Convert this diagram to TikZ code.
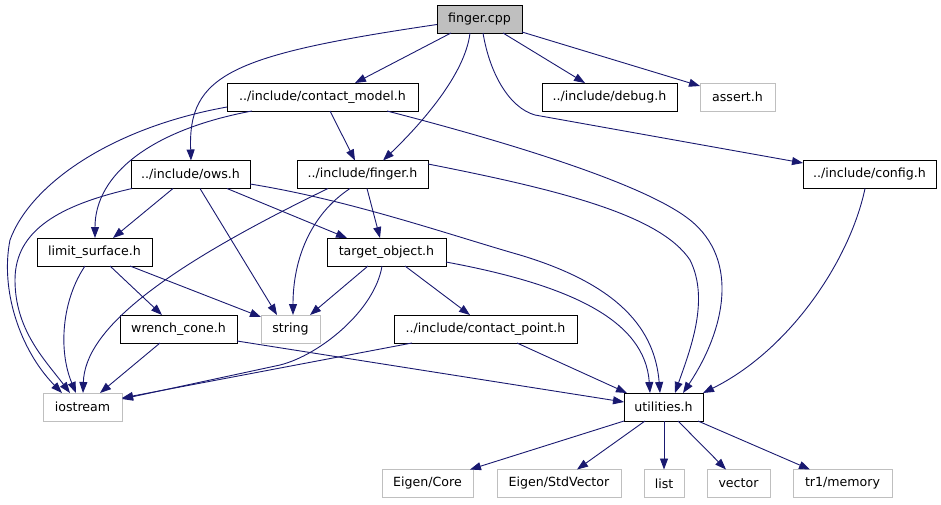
\documentclass[tikz,border=0pt]{standalone}
\usepackage{fontspec}
\setmainfont{DejaVu Sans}
\usetikzlibrary{arrows.meta,calc}
\definecolor{edgec}{RGB}{25,25,112}
\definecolor{grayb}{RGB}{191,191,191}
\begin{document}
\begin{tikzpicture}[x=1pt,y=-1pt,
  box/.style={draw=black,line width=0.9pt,minimum height=28pt,inner sep=0pt,outer sep=0pt,
    font=\fontsize{12.6}{14}\selectfont,fill=white},
  ext/.style={box,draw=grayb},
  root/.style={box,fill=grayb},
  edge/.style={draw=edgec,line width=0.9pt,-{Triangle[length=11pt,width=8pt]}}]
\useasboundingbox (0,0) rectangle (941,504);
% nodes
\node[root,minimum width=85pt]  (fcpp) at (479.5,19) {finger.cpp};
\node[box,minimum width=191pt]  (cm)   at (322.5,97) {../include/contact\_model.h};
\node[box,minimum width=135pt]  (dbg)  at (609.5,97) {../include/debug.h};
\node[ext,minimum width=75pt]   (ast)  at (737.5,97) {assert.h};
\node[box,minimum width=119pt]  (ows)  at (190.5,174.5) {../include/ows.h};
\node[box,minimum width=131pt]  (fh)   at (362.5,174.5) {../include/finger.h};
\node[box,minimum width=133pt]  (cfg)  at (869.5,174.5) {../include/config.h};
\node[box,minimum width=115pt]  (ls)   at (94.5,252) {limit\_surface.h};
\node[box,minimum width=119pt]  (to)   at (386.5,252) {target\_object.h};
\node[box,minimum width=117pt]  (wc)   at (178.5,329) {wrench\_cone.h};
\node[ext,minimum width=59pt]   (str)  at (290.5,329) {string};
\node[box,minimum width=183pt]  (cp)   at (485.5,329) {../include/contact\_point.h};
\node[ext,minimum width=79pt]   (ios)  at (82.5,407) {iostream};
\node[box,minimum width=79pt]   (util) at (663.5,407) {utilities.h};
\node[ext,minimum width=91pt]   (ec)   at (427.5,483.5) {Eigen/Core};
\node[ext,minimum width=124pt]  (esv)  at (559,483.5) {Eigen/StdVector};
\node[ext,minimum width=40pt]   (lst)  at (664,483.5) {list};
\node[ext,minimum width=63pt]   (vec)  at (738.5,483.5) {vector};
\node[ext,minimum width=99pt]   (mem)  at (842.5,483.5) {tr1/memory};
% finger.cpp
\draw[edge] ($(fcpp.south west)+(14,0)$) -- ($(cm.north west)+(128,0)$);
\draw[edge] ($(fcpp.south west)+(33,0)$) .. controls (465,75) and (420,125) .. ($(fh.north west)+(86,0)$);
\draw[edge] ($(fcpp.south west)+(66,0)$) -- ($(dbg.north west)+(43,0)$);
\draw[edge] ($(fcpp.north east)+(0,27)$) -- ($(ast.north west)+(0,3)$);
\draw[edge] ($(fcpp.south west)+(46,0)$) .. controls (490,75) and (510,108) .. (535,115) -- ($(cfg.north west)+(0,2.5)$);
\draw[edge] ($(fcpp.north west)+(0,19.5)$) .. controls (230,55) and (188,75) .. ($(ows.north west)+(60,0)$);
% contact_model
\draw[edge] ($(cm.south west)+(103,0)$) -- ($(fh.north west)+(58,0)$);
\draw[edge] ($(cm.north west)+(0,24)$) .. controls (110,128) and (30,185) .. (10,240) .. controls (0,290) and (20,350) .. ($(ios.north west)+(19,0)$);
\draw[edge] ($(cm.south west)+(25,0)$) .. controls (150,130) and (95,175) .. ($(ls.north west)+(58,0)$);
\draw[edge] ($(cm.south west)+(160,0)$) .. controls (480,135) and (640,180) .. (690,220) .. controls (740,260) and (725,330) .. ($(util.north west)+(59,0)$);
% ows
\draw[edge] ($(ows.south west)+(42,0)$) -- ($(ls.north west)+(76,0)$);
\draw[edge] ($(ows.south west)+(1,0)$) .. controls (60,205) and (15,230) .. (15,280) .. controls (15,330) and (45,360) .. ($(ios.north west)+(27,0)$);
\draw[edge] ($(ows.south west)+(69,0)$) -- ($(str.north west)+(16,0)$);
\draw[edge] ($(ows.south west)+(96,0)$) -- ($(to.north west)+(20,0)$);
\draw[edge] ($(ows.north east)+(0,23.5)$) .. controls (350,200) and (450,235) .. (520,255) .. controls (620,285) and (655,330) .. ($(util.north west)+(36,0)$);
% finger.h
\draw[edge] ($(fh.south west)+(31,0)$) .. controls (160,270) and (85,330) .. ($(ios.north west)+(40,0)$);
\draw[edge] ($(fh.south west)+(53,0)$) .. controls (310,215) and (293,260) .. ($(str.north west)+(32,0)$);
\draw[edge] ($(fh.south west)+(70,0)$) -- ($(to.north west)+(53,0)$);
\draw[edge] ($(fh.north east)+(0,3.5)$) .. controls (560,190) and (660,215) .. (690,260) .. controls (710,300) and (690,350) .. ($(util.north west)+(51,0)$);
% config
\draw[edge] ($(cfg.south west)+(62,0)$) .. controls (850,260) and (790,350) .. (util.north east);
% limit_surface
\draw[edge] ($(ls.south west)+(48,0)$) .. controls (62,300) and (58,350) .. ($(ios.north west)+(33,0)$);
\draw[edge] ($(ls.south west)+(93,0)$) -- ($(str.north west)+(0,2)$);
\draw[edge] ($(ls.south west)+(73,0)$) -- ($(wc.north west)+(42,0)$);
% target_object
\draw[edge] ($(to.south west)+(41,0)$) -- ($(str.north west)+(49,0)$);
\draw[edge] ($(to.south west)+(55,0)$) .. controls (375,310) and (320,355) .. (280,365) -- ($(ios.north east)+(0,6)$);
\draw[edge] ($(to.south west)+(78,0)$) -- ($(cp.north west)+(76,0)$);
\draw[edge] ($(to.north east)+(0,24)$) .. controls (570,285) and (645,320) .. ($(util.north west)+(26,0)$);
% wrench_cone
\draw[edge] ($(wc.south west)+(40,0)$) -- ($(ios.north west)+(57,0)$);
\draw[edge] ($(wc.north east)+(0,26)$) -- ($(util.north west)+(0,9)$);
% contact_point
\draw[edge] ($(cp.south west)+(18,0)$) -- ($(ios.north east)+(0,5)$);
\draw[edge] ($(cp.south west)+(123,0)$) -- ($(util.north west)+(3,0)$);
% utilities
\draw[edge] (util.south west) -- ($(ec.north west)+(88,0)$);
\draw[edge] ($(util.south west)+(21,0)$) -- ($(esv.north west)+(80,0)$);
\draw[edge] ($(util.south west)+(40,0)$) -- (lst.north);
\draw[edge] ($(util.south west)+(54,0)$) -- ($(vec.north west)+(19,0)$);
\draw[edge] ($(util.south west)+(74,0)$) -- ($(mem.north west)+(17,0)$);
\end{tikzpicture}
\end{document}
